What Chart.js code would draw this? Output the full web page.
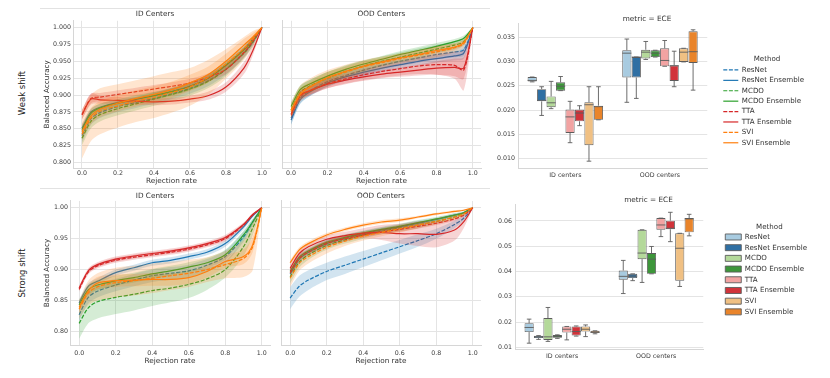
<!DOCTYPE html>
<html>
<head>
<meta charset="utf-8">
<script src="https://cdn.jsdelivr.net/npm/chart.js@4.4.1/dist/chart.umd.min.js"></script>
<style>
  body { margin: 0; background: #fff; width: 830px; height: 378px; position: relative; overflow: hidden; font-family: "DejaVu Sans", sans-serif; }
  canvas { position: absolute; }
  .row { position: absolute; font-size: 8.5px; color: #222; transform: translate(-50%, -50%) rotate(-90deg); white-space: nowrap; }
  .rule { position: absolute; background: #e2e2e2; }
</style>
</head>
<body>
<div class="row" style="left:22px;top:93px">Weak shift</div>
<div class="row" style="left:22px;top:273px">Strong shift</div>
<div class="rule" style="left:40px;top:8px;width:450px;height:1px"></div>
<div class="rule" style="left:40px;top:188px;width:450px;height:1px"></div>

<canvas id="weakId" width="232" height="190" style="left:40px;top:0"></canvas>
<canvas id="weakOod" width="208" height="190" style="left:276px;top:0"></canvas>
<canvas id="weakEce" width="350" height="190" style="left:480px;top:0"></canvas>
<canvas id="strongId" width="232" height="188" style="left:40px;top:190px"></canvas>
<canvas id="strongOod" width="209" height="188" style="left:275px;top:190px"></canvas>
<canvas id="strongEce" width="350" height="188" style="left:480px;top:190px"></canvas>

<script>
const methods = ['ResNet', 'ResNet Ensemble', 'MCDO', 'MCDO Ensemble', 'TTA', 'TTA Ensemble', 'SVI', 'SVI Ensemble'];
const lineColors = ['#1f77b4', '#1f77b4', '#2ca02c', '#2ca02c', '#d62728', '#d62728', '#ff7f0e', '#ff7f0e'];
const boxColors = ['#a8cbe0', '#2f6fa3', '#b4d99a', '#3d963a', '#f2a3a2', '#d1333a', '#f0c083', '#e9842a'];

const rejection = [0, 0.05, 0.1, 0.2, 0.3, 0.4, 0.5, 0.6, 0.7, 0.8, 0.9, 0.95, 1.0];
const rejectionTicks = [0, 0.2, 0.4, 0.6, 0.8, 1.0];
const weakAccTicks = [0.8, 0.825, 0.85, 0.875, 0.9, 0.925, 0.95, 0.975, 1.0];
const strongAccTicks = [0.8, 0.85, 0.9, 0.95, 1.0];

// balanced accuracy, weak shift, ID centers (mean and half-width of the band)
const weakIdMean = [
  [0.840, 0.865, 0.874, 0.883, 0.889, 0.895, 0.902, 0.910, 0.921, 0.938, 0.962, 0.978, 1.0],
  [0.851, 0.875, 0.882, 0.889, 0.894, 0.899, 0.905, 0.913, 0.925, 0.944, 0.968, 0.983, 1.0],
  [0.836, 0.861, 0.871, 0.880, 0.887, 0.894, 0.901, 0.909, 0.920, 0.938, 0.962, 0.979, 1.0],
  [0.849, 0.873, 0.881, 0.888, 0.894, 0.899, 0.905, 0.913, 0.925, 0.944, 0.967, 0.982, 1.0],
  [0.871, 0.895, 0.897, 0.901, 0.905, 0.909, 0.913, 0.918, 0.926, 0.938, 0.963, 0.980, 1.0],
  [0.871, 0.894, 0.893, 0.892, 0.891, 0.890, 0.891, 0.894, 0.899, 0.912, 0.940, 0.966, 1.0],
  [0.842, 0.866, 0.876, 0.884, 0.891, 0.897, 0.904, 0.912, 0.926, 0.946, 0.969, 0.983, 1.0],
  [0.846, 0.869, 0.879, 0.888, 0.895, 0.901, 0.908, 0.918, 0.930, 0.950, 0.974, 0.986, 1.0]
];
const weakIdBand = [
  [0.010, 0.009, 0.008, 0.008, 0.008, 0.008, 0.008, 0.008, 0.008, 0.008, 0.007, 0.005, 0],
  [0.006, 0.005, 0.005, 0.005, 0.005, 0.005, 0.005, 0.005, 0.005, 0.005, 0.005, 0.004, 0],
  [0.010, 0.010, 0.010, 0.010, 0.010, 0.010, 0.010, 0.010, 0.010, 0.010, 0.008, 0.006, 0],
  [0.006, 0.006, 0.006, 0.006, 0.006, 0.006, 0.006, 0.006, 0.006, 0.006, 0.005, 0.004, 0],
  [0.007, 0.007, 0.006, 0.006, 0.006, 0.006, 0.006, 0.006, 0.006, 0.007, 0.007, 0.005, 0],
  [0.007, 0.008, 0.006, 0.005, 0.005, 0.005, 0.005, 0.005, 0.006, 0.007, 0.009, 0.007, 0],
  [0.036, 0.034, 0.034, 0.032, 0.031, 0.031, 0.030, 0.028, 0.026, 0.022, 0.017, 0.012, 0],
  [0.012, 0.012, 0.012, 0.012, 0.012, 0.012, 0.012, 0.012, 0.012, 0.011, 0.009, 0.006, 0]
];

// weak shift, OOD centers
const weakOodMean = [
  [0.866, 0.895, 0.906, 0.920, 0.929, 0.937, 0.944, 0.950, 0.955, 0.960, 0.964, 0.967, 1.0],
  [0.863, 0.893, 0.904, 0.918, 0.927, 0.934, 0.940, 0.945, 0.950, 0.954, 0.958, 0.962, 1.0],
  [0.878, 0.904, 0.913, 0.925, 0.935, 0.943, 0.950, 0.956, 0.962, 0.968, 0.974, 0.979, 1.0],
  [0.883, 0.908, 0.916, 0.928, 0.938, 0.946, 0.953, 0.960, 0.966, 0.972, 0.979, 0.984, 1.0],
  [0.870, 0.898, 0.906, 0.917, 0.924, 0.930, 0.935, 0.939, 0.943, 0.945, 0.944, 0.937, 1.0],
  [0.872, 0.900, 0.906, 0.916, 0.922, 0.927, 0.931, 0.934, 0.937, 0.940, 0.941, 0.940, 1.0],
  [0.878, 0.902, 0.912, 0.925, 0.934, 0.942, 0.948, 0.954, 0.959, 0.964, 0.970, 0.976, 1.0],
  [0.876, 0.901, 0.911, 0.926, 0.935, 0.943, 0.949, 0.955, 0.960, 0.966, 0.971, 0.978, 1.0]
];
const weakOodBand = [
  [0.010, 0.008, 0.008, 0.007, 0.007, 0.007, 0.007, 0.007, 0.007, 0.007, 0.008, 0.008, 0],
  [0.007, 0.006, 0.006, 0.006, 0.006, 0.006, 0.006, 0.006, 0.006, 0.006, 0.007, 0.008, 0],
  [0.010, 0.009, 0.009, 0.009, 0.008, 0.008, 0.007, 0.007, 0.007, 0.006, 0.006, 0.005, 0],
  [0.006, 0.006, 0.006, 0.006, 0.006, 0.005, 0.005, 0.005, 0.005, 0.005, 0.004, 0.004, 0],
  [0.008, 0.007, 0.007, 0.007, 0.007, 0.008, 0.009, 0.010, 0.012, 0.015, 0.020, 0.030, 0],
  [0.006, 0.006, 0.006, 0.006, 0.006, 0.006, 0.006, 0.007, 0.008, 0.010, 0.013, 0.016, 0],
  [0.012, 0.012, 0.012, 0.012, 0.011, 0.010, 0.009, 0.008, 0.008, 0.008, 0.007, 0.006, 0],
  [0.008, 0.008, 0.008, 0.008, 0.007, 0.007, 0.006, 0.006, 0.006, 0.006, 0.005, 0.004, 0]
];

// strong shift, ID centers
const strongIdMean = [
  [0.827, 0.855, 0.865, 0.875, 0.883, 0.890, 0.894, 0.898, 0.907, 0.921, 0.953, 0.977, 1.0],
  [0.846, 0.873, 0.881, 0.895, 0.903, 0.911, 0.915, 0.921, 0.928, 0.942, 0.969, 0.987, 1.0],
  [0.813, 0.838, 0.848, 0.855, 0.860, 0.866, 0.870, 0.876, 0.885, 0.900, 0.937, 0.967, 1.0],
  [0.843, 0.867, 0.875, 0.882, 0.887, 0.893, 0.898, 0.904, 0.911, 0.924, 0.956, 0.977, 1.0],
  [0.868, 0.896, 0.906, 0.915, 0.920, 0.924, 0.928, 0.933, 0.940, 0.950, 0.972, 0.988, 1.0],
  [0.870, 0.898, 0.908, 0.917, 0.922, 0.926, 0.930, 0.935, 0.942, 0.952, 0.973, 0.989, 1.0],
  [0.836, 0.862, 0.872, 0.879, 0.882, 0.886, 0.890, 0.894, 0.900, 0.908, 0.918, 0.937, 1.0],
  [0.839, 0.865, 0.878, 0.882, 0.883, 0.884, 0.884, 0.887, 0.897, 0.913, 0.921, 0.940, 1.0]
];
const strongIdBand = [
  [0.010, 0.010, 0.010, 0.010, 0.010, 0.010, 0.010, 0.010, 0.010, 0.010, 0.008, 0.005, 0],
  [0.005, 0.005, 0.005, 0.005, 0.005, 0.005, 0.005, 0.005, 0.005, 0.005, 0.004, 0.003, 0],
  [0.025, 0.025, 0.027, 0.027, 0.026, 0.025, 0.023, 0.022, 0.018, 0.013, 0.015, 0.012, 0],
  [0.008, 0.008, 0.008, 0.008, 0.008, 0.008, 0.008, 0.008, 0.008, 0.008, 0.007, 0.005, 0],
  [0.004, 0.004, 0.004, 0.004, 0.004, 0.004, 0.004, 0.004, 0.004, 0.004, 0.003, 0.002, 0],
  [0.004, 0.004, 0.004, 0.004, 0.004, 0.004, 0.004, 0.004, 0.004, 0.004, 0.003, 0.002, 0],
  [0.015, 0.020, 0.022, 0.024, 0.024, 0.024, 0.023, 0.022, 0.020, 0.022, 0.030, 0.038, 0],
  [0.010, 0.010, 0.010, 0.010, 0.010, 0.010, 0.010, 0.010, 0.010, 0.010, 0.012, 0.012, 0]
];

// strong shift, OOD centers
const strongOodMean = [
  [0.854, 0.873, 0.883, 0.897, 0.907, 0.917, 0.927, 0.937, 0.947, 0.958, 0.973, 0.983, 1.0],
  [0.893, 0.917, 0.928, 0.942, 0.951, 0.958, 0.964, 0.969, 0.975, 0.981, 0.988, 0.992, 1.0],
  [0.888, 0.912, 0.924, 0.939, 0.948, 0.956, 0.962, 0.967, 0.972, 0.978, 0.985, 0.990, 1.0],
  [0.897, 0.920, 0.930, 0.944, 0.952, 0.959, 0.965, 0.970, 0.976, 0.982, 0.988, 0.992, 1.0],
  [0.895, 0.918, 0.928, 0.942, 0.950, 0.956, 0.961, 0.965, 0.970, 0.975, 0.982, 0.988, 1.0],
  [0.902, 0.926, 0.937, 0.949, 0.955, 0.959, 0.960, 0.958, 0.958, 0.957, 0.964, 0.977, 1.0],
  [0.886, 0.910, 0.921, 0.936, 0.946, 0.954, 0.960, 0.966, 0.972, 0.978, 0.985, 0.990, 1.0],
  [0.911, 0.932, 0.942, 0.956, 0.965, 0.972, 0.977, 0.980, 0.985, 0.990, 0.994, 0.996, 1.0]
];
const strongOodBand = [
  [0.018, 0.017, 0.016, 0.014, 0.014, 0.013, 0.012, 0.011, 0.010, 0.008, 0.006, 0.004, 0],
  [0.006, 0.006, 0.005, 0.005, 0.005, 0.004, 0.004, 0.004, 0.004, 0.003, 0.003, 0.002, 0],
  [0.010, 0.009, 0.008, 0.007, 0.006, 0.006, 0.005, 0.005, 0.005, 0.004, 0.003, 0.002, 0],
  [0.006, 0.006, 0.005, 0.005, 0.005, 0.004, 0.004, 0.004, 0.004, 0.003, 0.003, 0.002, 0],
  [0.006, 0.006, 0.005, 0.005, 0.005, 0.004, 0.004, 0.004, 0.004, 0.003, 0.003, 0.002, 0],
  [0.006, 0.006, 0.006, 0.006, 0.006, 0.008, 0.012, 0.016, 0.020, 0.021, 0.017, 0.010, 0],
  [0.014, 0.012, 0.011, 0.010, 0.008, 0.007, 0.006, 0.006, 0.005, 0.005, 0.004, 0.003, 0],
  [0.004, 0.004, 0.004, 0.003, 0.003, 0.003, 0.003, 0.003, 0.002, 0.002, 0.002, 0.001, 0]
];

// ECE box plots: per method [ID centers, OOD centers]
const eceGroups = ['ID centers', 'OOD centers'];
const weakEceTicks = [0.010, 0.015, 0.020, 0.025, 0.030, 0.035];
const weakEceLow  = [[0.0258, 0.0216], [0.0189, 0.0224], [0.0203, 0.0304], [0.0240, 0.0309], [0.0133, 0.0290], [0.0168, 0.0248], [0.0095, 0.0299], [0.0180, 0.0241]];
const weakEceQ1   = [[0.0259, 0.0267], [0.0218, 0.0267], [0.0206, 0.0306], [0.0240, 0.0309], [0.0153, 0.0290], [0.0177, 0.0260], [0.0128, 0.0299], [0.0180, 0.0297]];
const weakEceMed  = [[0.0261, 0.0317], [0.0220, 0.0309], [0.0215, 0.0319], [0.0249, 0.0317], [0.0186, 0.0302], [0.0194, 0.0291], [0.0211, 0.0319], [0.0207, 0.0320]];
const weakEceQ3   = [[0.0268, 0.0323], [0.0243, 0.0309], [0.0228, 0.0324], [0.0257, 0.0323], [0.0201, 0.0327], [0.0201, 0.0292], [0.0216, 0.0327], [0.0209, 0.0362]];
const weakEceHigh = [[0.0268, 0.0346], [0.0248, 0.0309], [0.0259, 0.0341], [0.0269, 0.0323], [0.0218, 0.0343], [0.0209, 0.0321], [0.0248, 0.0327], [0.0248, 0.0365]];

const strongEceTicks = [0.01, 0.02, 0.03, 0.04, 0.05, 0.06];
const strongEceLow  = [[0.0117, 0.0313], [0.0132, 0.0364], [0.0124, 0.0357], [0.0136, 0.0391], [0.0130, 0.0538], [0.0145, 0.0518], [0.0143, 0.0341], [0.0154, 0.0541]];
const strongEceQ1   = [[0.0161, 0.0368], [0.0137, 0.0374], [0.0130, 0.0449], [0.0138, 0.0391], [0.0159, 0.0565], [0.0147, 0.0567], [0.0163, 0.0364], [0.0157, 0.0555]];
const strongEceMed  = [[0.0179, 0.0381], [0.0142, 0.0382], [0.0142, 0.0473], [0.0143, 0.0449], [0.0172, 0.0584], [0.0163, 0.0571], [0.0172, 0.0492], [0.0160, 0.0608]];
const strongEceQ3   = [[0.0196, 0.0404], [0.0146, 0.0391], [0.0216, 0.0565], [0.0149, 0.0473], [0.0183, 0.0611], [0.0183, 0.0601], [0.0183, 0.0551], [0.0166, 0.0611]];
const strongEceHigh = [[0.0212, 0.0444], [0.0147, 0.0391], [0.0258, 0.0565], [0.0150, 0.0499], [0.0183, 0.0611], [0.0185, 0.0634], [0.0189, 0.0551], [0.0166, 0.0626]];

Chart.defaults.font.family = '"DejaVu Sans", sans-serif';
Chart.defaults.color = '#333';
const gridColor = '#e4e4e4';
const spineColor = '#d6d6d6';
const boxEdge = '#5c5c5c';
const dash = [4, 1.6];

function hexA(hex, a) {
  const n = parseInt(hex.slice(1), 16);
  return 'rgba(' + (n >> 16) + ',' + ((n >> 8) & 255) + ',' + (n & 255) + ',' + a + ')';
}

function lineChart(id, title, means, bands, yMin, yMax, yTicks, digits, showY, L) {
  const datasets = [];
  methods.forEach((m, i) => {
    const order = (methods.length - i) * 2;
    const pts = f => rejection.map((x, k) => ({ x: x, y: f(k) }));
    datasets.push({ data: pts(k => means[i][k] - bands[i][k]), borderWidth: 0, pointRadius: 0, fill: false, order: order, tension: 0.3 });
    datasets.push({ data: pts(k => means[i][k] + bands[i][k]), borderWidth: 0, pointRadius: 0, fill: '-1', backgroundColor: hexA(lineColors[i], 0.2), order: order, tension: 0.3 });
    datasets.push({
      label: m, data: pts(k => means[i][k]), borderColor: lineColors[i], borderWidth: 1.2,
      borderDash: m.endsWith('Ensemble') ? [] : dash, pointRadius: 0, fill: false, order: order - 1, tension: 0.3
    });
  });
  return new Chart(document.getElementById(id), {
    type: 'line',
    data: { datasets: datasets },
    options: {
      responsive: false,
      animation: false,
      layout: { padding: { left: L.padLeft, right: L.padRight, top: 0, bottom: 0 } },
      plugins: {
        legend: { display: false },
        tooltip: { enabled: false },
        title: { display: true, text: title, font: { size: 7.3, weight: 'normal' }, color: '#333', padding: { top: L.titleTop, bottom: L.titleBottom } }
      },
      scales: {
        x: {
          type: 'linear', min: -0.05, max: 1.045,
          afterBuildTicks: s => { s.ticks = rejectionTicks.map(v => ({ value: v })); },
          afterFit: s => { s.height = L.xHeight; },
          ticks: { font: { size: 6.3 }, color: '#3a3a3a', padding: L.xTickPad, maxRotation: 0, autoSkip: false, callback: v => v.toFixed(1) },
          grid: { color: gridColor, drawTicks: false },
          border: { color: spineColor },
          title: { display: true, text: 'Rejection rate', font: { size: 7.3 }, color: '#333', padding: { top: 0, bottom: L.xTitlePad } }
        },
        y: {
          min: yMin, max: yMax,
          afterBuildTicks: s => { s.ticks = yTicks.map(v => ({ value: v })); },
          afterFit: s => { s.width = L.yWidth; },
          ticks: { display: showY, font: { size: 6.3 }, color: '#3a3a3a', padding: 2, autoSkip: false, callback: v => v.toFixed(digits) },
          grid: { color: gridColor, drawTicks: false },
          border: { color: spineColor },
          title: { display: showY, text: 'Balanced Accuracy', font: { size: 7.2 }, color: '#333', padding: { top: 3, bottom: 0 } }
        }
      }
    }
  });
}

// whiskers, caps and medians of the box plots, placed with the chart's own scales
const whiskers = {
  id: 'whiskers',
  afterDatasetsDraw(chart) {
    const ctx = chart.ctx;
    const y = chart.scales.y;
    ctx.save();
    ctx.strokeStyle = boxEdge;
    ctx.lineWidth = 0.9;
    chart.data.datasets.forEach((ds, i) => {
      chart.getDatasetMeta(i).data.forEach((bar, k) => {
        const xc = bar.x, w = bar.width;
        const pLow = y.getPixelForValue(ds.low[k]);
        const pHigh = y.getPixelForValue(ds.high[k]);
        const pQ1 = y.getPixelForValue(ds.data[k][0]);
        const pQ3 = y.getPixelForValue(ds.data[k][1]);
        const pMed = y.getPixelForValue(ds.med[k]);
        ctx.beginPath();
        ctx.moveTo(xc, pQ3); ctx.lineTo(xc, pHigh);
        ctx.moveTo(xc, pQ1); ctx.lineTo(xc, pLow);
        ctx.moveTo(xc - w / 4, pHigh); ctx.lineTo(xc + w / 4, pHigh);
        ctx.moveTo(xc - w / 4, pLow); ctx.lineTo(xc + w / 4, pLow);
        ctx.moveTo(xc - w / 2, pMed); ctx.lineTo(xc + w / 2, pMed);
        ctx.stroke();
      });
    });
    ctx.restore();
  }
};

function boxChart(id, lows, q1s, meds, q3s, highs, yMin, yMax, yTicks, digits, lineLegend, L) {
  const datasets = methods.map((m, i) => ({
    label: m,
    data: eceGroups.map((g, k) => [q1s[i][k], q3s[i][k]]),
    low: lows[i], med: meds[i], high: highs[i],
    backgroundColor: boxColors[i],
    borderColor: boxEdge,
    borderWidth: 0.9,
    borderSkipped: false,
    categoryPercentage: 0.8,
    barPercentage: 0.97
  }));
  const labels = { font: { size: 7.1 }, color: '#333', padding: L.legendPad, boxWidth: 16, boxHeight: 6 };
  if (lineLegend) {
    labels.usePointStyle = true;
    labels.pointStyleWidth = 15;
    labels.generateLabels = () => methods.map((m, i) => ({
      text: m, fillStyle: lineColors[i], strokeStyle: lineColors[i], lineWidth: 1.2,
      lineDash: m.endsWith('Ensemble') ? [] : dash, pointStyle: 'line', hidden: false, datasetIndex: i, fontColor: '#333'
    }));
  }
  return new Chart(document.getElementById(id), {
    type: 'bar',
    data: { labels: eceGroups, datasets: datasets },
    plugins: [whiskers],
    options: {
      responsive: false,
      animation: false,
      layout: { padding: { left: 0, right: L.padRight, top: 0, bottom: 0 } },
      plugins: {
        tooltip: { enabled: false },
        title: { display: true, text: 'metric = ECE', font: { size: 7.3, weight: 'normal' }, color: '#333', padding: { top: L.titleTop, bottom: L.titleBottom } },
        legend: {
          position: 'right', align: 'start', maxWidth: 200,
          title: { display: true, text: 'Method', font: { size: 7.1 }, color: '#333', padding: { top: L.legendTitleTop, bottom: L.legendTitleBottom } },
          labels: labels
        }
      },
      scales: {
        x: {
          grid: { display: false, drawTicks: false },
          border: { color: spineColor },
          afterFit: s => { s.height = L.xHeight; },
          ticks: { font: { size: 6.3 }, color: '#3a3a3a', padding: L.xTickPad }
        },
        y: {
          min: yMin, max: yMax,
          afterBuildTicks: s => { s.ticks = yTicks.map(v => ({ value: v })); },
          afterFit: s => { s.width = L.yWidth; },
          ticks: { font: { size: 6.3 }, color: '#3a3a3a', padding: 3, autoSkip: false, callback: v => v.toFixed(digits) },
          grid: { color: gridColor, drawTicks: false },
          border: { color: spineColor }
        },
        gap: {
          type: 'linear', position: 'right', display: true,
          grid: { display: false, drawTicks: false }, border: { display: false }, ticks: { display: false },
          afterFit: s => { s.width = L.gap; }
        }
      }
    }
  });
}

lineChart('weakId', 'ID Centers', weakIdMean, weakIdBand, 0.792, 1.01, weakAccTicks, 3, true,
  { padLeft: 0, padRight: 2, titleTop: 10, titleBottom: 2, xHeight: 22, xTickPad: 1.5, xTitlePad: 4.6, yWidth: 33 });
lineChart('weakOod', 'OOD Centers', weakOodMean, weakOodBand, 0.792, 1.01, weakAccTicks, 3, false,
  { padLeft: 6, padRight: 3, titleTop: 10, titleBottom: 2, xHeight: 22, xTickPad: 1.5, xTitlePad: 4.6, yWidth: 0 });
lineChart('strongId', 'ID Centers', strongIdMean, strongIdBand, 0.778, 1.011, strongAccTicks, 2, true,
  { padLeft: 0, padRight: 2, titleTop: 1.6, titleBottom: 0.6, xHeight: 33, xTickPad: 4.2, xTitlePad: 12.9, yWidth: 30 });
lineChart('strongOod', 'OOD Centers', strongOodMean, strongOodBand, 0.778, 1.011, strongAccTicks, 2, false,
  { padLeft: 6, padRight: 3, titleTop: 1.6, titleBottom: 0.6, xHeight: 33, xTickPad: 4.2, xTitlePad: 12.9, yWidth: 0 });

boxChart('weakEce', weakEceLow, weakEceQ1, weakEceMed, weakEceQ3, weakEceHigh, 0.0081, 0.0377, weakEceTicks, 3, true,
  { padRight: 16, titleTop: 15, titleBottom: 0.2, xHeight: 22, xTickPad: 3.2, yWidth: 38, gap: 12.7, legendPad: 3.3, legendTitleTop: 55.4, legendTitleBottom: -0.8 });
boxChart('strongEce', strongEceLow, strongEceQ1, strongEceMed, strongEceQ3, strongEceHigh, 0.0094, 0.0663, strongEceTicks, 2, false,
  { padRight: 13, titleTop: 5.6, titleBottom: 0.6, xHeight: 29, xTickPad: 3.2, yWidth: 35, gap: 18.4, legendPad: 3.6, legendTitleTop: 33.4, legendTitleBottom: -2.1 });
</script>
</body>
</html>
